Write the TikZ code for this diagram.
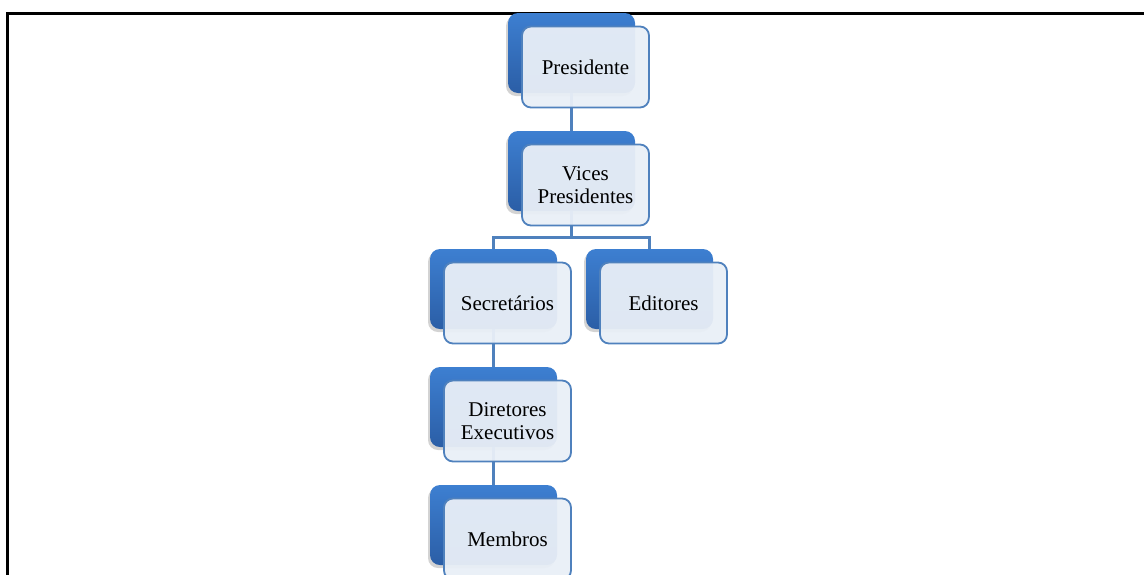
\documentclass[tikz,border=0pt]{standalone}
\usepackage{fontspec}
\setmainfont{Liberation Serif}
\usetikzlibrary{positioning, shadows, calc}
\definecolor{orgblue}{RGB}{61, 127, 209}
\definecolor{orgdarkblue}{RGB}{43, 94, 166}
\definecolor{orgline}{RGB}{79, 129, 189}
\definecolor{orgpale}{RGB}{233, 239, 247}
\tikzset{
  backbox/.style={rectangle, rounded corners=5pt, minimum width=63.5pt, minimum height=40pt,
                  top color=orgblue, bottom color=orgdarkblue, draw=none,
                  drop shadow={shadow xshift=-1pt, shadow yshift=-1.5pt, opacity=0.35}},
  frontbox/.style={rectangle, rounded corners=4.5pt, minimum width=63.5pt, minimum height=40.5pt,
                   fill=orgpale, fill opacity=0.95, text opacity=1, draw=orgline, line width=0.9pt,
                   align=center, font=\fontsize{10.5}{11.5}\selectfont, inner sep=0pt},
  conn/.style={draw=orgline, line width=1.1pt}
}
\begin{document}
\begin{tikzpicture}[x=0.5pt, y=-0.5pt]
\useasboundingbox (0,0) rectangle (1144,574);

% Frame
\draw[line width=1.5pt] (7.5,580) -- (7.5,13.5) -- (1150,13.5);

% Back boxes
\node[backbox] (pres) at (571.5,53) {};
\node[backbox] (vice) at (571.5,171) {};
\node[backbox] (secr) at (493.5,289) {};
\node[backbox] (edit) at (649.5,289) {};
\node[backbox] (dire) at (493.5,407) {};
\node[backbox] (memb) at (493.5,525) {};

% Connectors
\draw[conn] (pres.south) -- (vice.north);
\draw[conn] (vice.south) -- ++(0,26) -| (secr.north);
\draw[conn] (vice.south) -- ++(0,26) -| (edit.north);
\draw[conn] (secr.south) -- (dire.north);
\draw[conn] (dire.south) -- (memb.north);

% Front boxes
\node[frontbox] (presF) at ($(pres)+(14,14)$) {Presidente};
\node[frontbox] (viceF) at ($(vice)+(14,14)$) {Vices\\Presidentes};
\node[frontbox] (secrF) at ($(secr)+(14,14)$) {Secretários};
\node[frontbox] (editF) at ($(edit)+(14,14)$) {Editores};
\node[frontbox] (direF) at ($(dire)+(14,14)$) {Diretores\\Executivos};
\node[frontbox] (membF) at ($(memb)+(14,14)$) {Membros};

\end{tikzpicture}
\end{document}
